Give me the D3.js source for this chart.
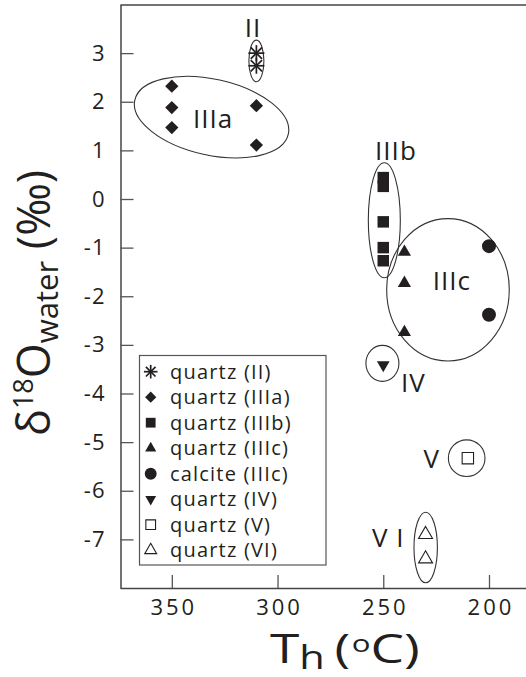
<!DOCTYPE html>
<html><head><meta charset="utf-8">
<script src="https://cdn.jsdelivr.net/npm/d3@7"></script>
<style>
body{margin:0;background:#fff}
svg{display:block}
text{font-family:"Open Sans",sans-serif;fill:#231f20}
</style>
</head><body>
<svg id="c" width="526" height="677"></svg>
<script>
// ---- data ----
const xTicks = [350, 300, 250, 200];
const yTicks = [-7, -6, -5, -4, -3, -2, -1, 0, 1, 2, 3];
const seriesNames = ["quartz (II)", "quartz (IIIa)", "quartz (IIIb)", "quartz (IIIc)", "calcite (IIIc)", "quartz (IV)", "quartz (V)", "quartz (VI)"];
const seriesSymbols = ["star", "diamond", "square", "triangle", "circle", "triangleDown", "openSquare", "openTriangle"];
const quartzII_T = [310, 310];            const quartzII_O = [3.0, 2.74];
const quartzIIIa_T = [350, 350, 350, 310, 310]; const quartzIIIa_O = [2.32, 1.88, 1.47, 1.92, 1.11];
const quartzIIIb_T = [250, 250, 250, 250, 250]; const quartzIIIb_O = [0.44, 0.26, -0.47, -1.0, -1.27];
const quartzIIIc_T = [240, 240, 240];     const quartzIIIc_O = [-1.09, -1.73, -2.74];
const calciteIIIc_T = [200, 200];         const calciteIIIc_O = [-0.97, -2.38];
const quartzIV_T = [250];                 const quartzIV_O = [-3.41];
const quartzV_T = [210];                  const quartzV_O = [-5.33];
const quartzVI_T = [230, 230];            const quartzVI_O = [-6.9, -7.4];
const seriesT = [quartzII_T, quartzIIIa_T, quartzIIIb_T, quartzIIIc_T, calciteIIIc_T, quartzIV_T, quartzV_T, quartzVI_T];
const seriesO = [quartzII_O, quartzIIIa_O, quartzIIIb_O, quartzIIIc_O, calciteIIIc_O, quartzIV_O, quartzV_O, quartzVI_O];
// group annotations (data coordinates)
const groupNames = ["II", "IIIa", "IIIb", "IIIc", "IV", "V", "V I"];
const groupLabelT = [311.6, 330.5, 244, 217.6, 235.8, 227.1, 247.6];
const groupLabelO = [3.52, 1.66, 1.0, -1.67, -3.785, -5.34, -6.955];
const groupEllT = [310, 331.2, 249.5, 219.4, 250.4, 210.55, 229.94];
const groupEllO = [2.84, 1.684, -0.436, -1.867, -3.38, -5.33, -7.167];

// ---- layout ----
const ink = "#231f20";
const svg = d3.select("#c");
const x = d3.scaleLinear().domain([374.5, 182.5]).range([120, 526]);
const y = d3.scaleLinear().domain([-8, 4]).range([588, 4.5]);
const ellRx = [7.5, 78.6, 16, 61.3, 16.5, 18.3, 11.7];
const ellRy = [20.8, 38, 57.5, 71.2, 18, 18.3, 35.3];
const ellRot = [0, 12.5, 0, 0, 0, 0, 0];

// frame
svg.append("line").attr("x1", 120.5).attr("x2", 526).attr("y1", 5).attr("y2", 5)
  .attr("stroke", "#444").attr("stroke-width", 1.5);

const yAxis = svg.append("g").attr("transform", "translate(120.5,0)")
  .call(d3.axisLeft(y).tickValues(yTicks).tickSize(-13).tickSizeOuter(0).tickPadding(15).tickFormat(d3.format("d")));
const xAxis = svg.append("g").attr("transform", "translate(0,588)")
  .call(d3.axisBottom(x).tickValues(xTicks).tickSize(-13).tickSizeOuter(0).tickPadding(11));
[yAxis, xAxis].forEach(a => {
  a.selectAll("path.domain").attr("stroke", "#444").attr("stroke-width", 1.5);
  a.selectAll(".tick line").attr("stroke", "#555").attr("stroke-width", 1.3);
  a.selectAll(".tick text").attr("font-family", "Open Sans, sans-serif").attr("font-size", 22).attr("fill", ink);
});
yAxis.selectAll(".tick text").text(d => d < 0 ? "-" + Math.abs(d) : d).attr("letter-spacing", 1);
xAxis.selectAll(".tick text").attr("letter-spacing", 3).attr("dx", 1.5);

// ellipses
groupNames.forEach((n, i) => {
  svg.append("ellipse")
    .attr("transform", `translate(${x(groupEllT[i])},${y(groupEllO[i])}) rotate(${ellRot[i]})`)
    .attr("rx", ellRx[i]).attr("ry", ellRy[i])
    .attr("fill", "none").attr("stroke", "#333").attr("stroke-width", 1.1);
  svg.append("text").attr("x", x(groupLabelT[i])).attr("y", y(groupLabelO[i]))
    .attr("text-anchor", "middle").attr("dy", "0.36em")
    .attr("font-size", 26).attr("letter-spacing", 1).text(n);
});

// symbols
function drawSymbol(g, type, s) {
  if (type === "star") {
    const r = 8 * s;
    for (let k = 0; k < 4; k++) {
      const a = k * Math.PI / 4;
      g.append("line").attr("x1", -r * Math.cos(a)).attr("y1", -r * Math.sin(a))
        .attr("x2", r * Math.cos(a)).attr("y2", r * Math.sin(a))
        .attr("stroke", ink).attr("stroke-width", 1.7);
    }
    return;
  }
  let sym, rot = 0, fill = ink, stroke = "none", size;
  switch (type) {
    case "diamond": sym = d3.symbolSquare; rot = 45; size = 88 * s * s; break;
    case "square": sym = d3.symbolSquare; size = 132 * s * s; break;
    case "triangle": sym = d3.symbolTriangle; size = 75 * s * s; break;
    case "circle": sym = d3.symbolCircle; size = 154 * s * s; break;
    case "triangleDown": sym = d3.symbolTriangle; rot = 180; size = 70 * s * s; break;
    case "openSquare": sym = d3.symbolSquare; size = 130 * s * s; fill = "none"; stroke = ink; break;
    case "openTriangle": sym = d3.symbolTriangle; size = 85 * s * s; fill = "none"; stroke = ink; break;
  }
  g.append("path").attr("d", d3.symbol(sym, size)()).attr("transform", `rotate(${rot})`)
    .attr("fill", fill).attr("stroke", stroke).attr("stroke-width", 1.1);
}

seriesT.forEach((ts, si) => {
  ts.forEach((t, j) => {
    const g = svg.append("g").attr("transform", `translate(${x(t)},${y(seriesO[si][j])})`);
    drawSymbol(g, seriesSymbols[si], 1);
  });
});

// legend
const lg = svg.append("g");
lg.append("rect").attr("x", 139.5).attr("y", 355.5).attr("width", 186.5).attr("height", 209.5)
  .attr("fill", "#fff").attr("stroke", "#555").attr("stroke-width", 1.2);
seriesNames.forEach((n, i) => {
  const yy = 371.7 + i * 25.5;
  const g = lg.append("g").attr("transform", `translate(150.7,${yy})`);
  drawSymbol(g, seriesSymbols[i], 0.85);
  lg.append("text").attr("x", 170).attr("y", yy).attr("dy", "0.35em")
    .attr("font-size", 20).attr("letter-spacing", 1.2).text(n);
});

// axis titles
const xtg = svg.append("g").attr("transform", "translate(270,663) scale(1.3,1)");
const xt = xtg.append("text").attr("x", 0).attr("y", 0).attr("font-size", 41);
xt.append("tspan").text("T");
xt.append("tspan").attr("font-size", 32).attr("dy", 6).attr("dx", 0).text("h");
xt.append("tspan").attr("dy", -6).attr("dx", 7.5).text("(");
xt.append("tspan").attr("font-size", 24).attr("dy", -11).attr("dx", 1).text("o");
xt.append("tspan").attr("dy", 11).attr("dx", 0).text("C");
xt.append("tspan").attr("dx", 0).text(")");

const yt = svg.append("text").attr("transform", "translate(50,303) rotate(-90)").attr("text-anchor", "middle").attr("font-size", 45);
yt.append("tspan").text("δ");
yt.append("tspan").attr("font-size", 27).attr("dy", -17).text("18");
yt.append("tspan").attr("dy", 17).text("O");
yt.append("tspan").attr("font-size", 31).attr("dy", 8).text("water");
yt.append("tspan").attr("dy", -8).text(" (‰)");
</script>
</body></html>
